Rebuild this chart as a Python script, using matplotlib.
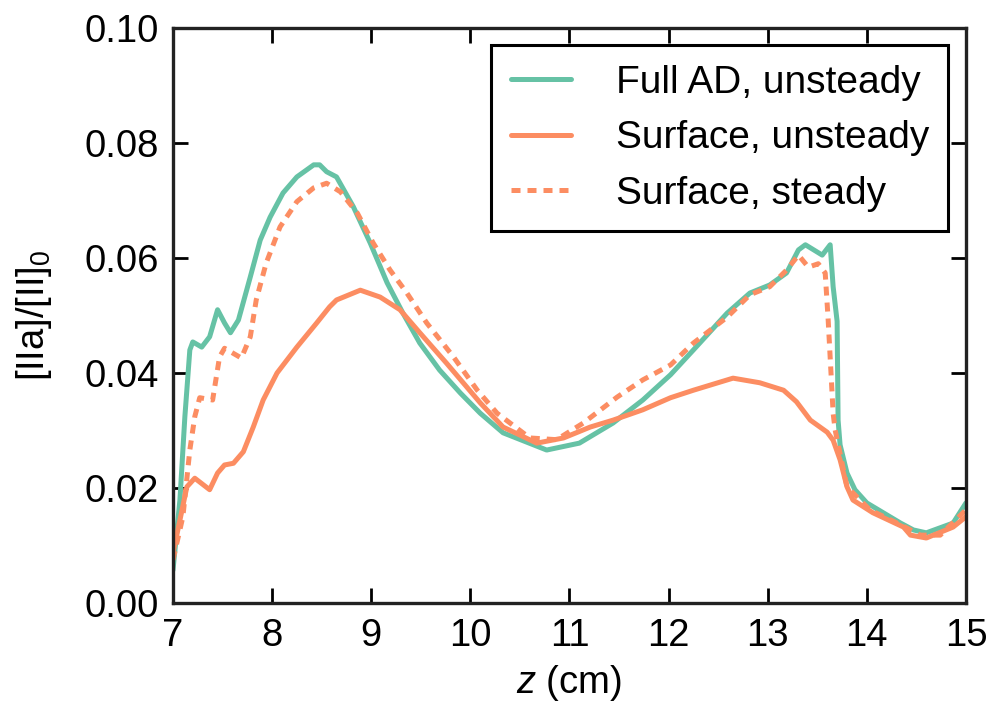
import numpy as np
import matplotlib
matplotlib.use('Agg')
import matplotlib.pyplot as plt

# valores
z_full = [7.0, 7.07, 7.12, 7.17, 7.2, 7.29, 7.37, 7.45, 7.52, 7.58, 7.66, 7.78, 7.88, 7.98,
          8.11, 8.25, 8.42, 8.48, 8.55, 8.65, 8.82, 8.99, 9.16, 9.32, 9.49, 9.69, 9.9, 10.1,
          10.33, 10.77, 11.1, 11.44, 11.74, 12.02, 12.25, 12.59, 12.82, 13.02, 13.19, 13.31,
          13.38, 13.55, 13.63, 13.66, 13.70, 13.71, 13.73, 13.8, 13.88, 14.0, 14.34, 14.47,
          14.6, 14.87, 15.0]
v_full = [0.0057, 0.0179, 0.0324, 0.044, 0.0454, 0.0445, 0.0463, 0.051, 0.0487, 0.047, 0.0492,
          0.0567, 0.0631, 0.0671, 0.0713, 0.0741, 0.0762, 0.0762, 0.075, 0.0741, 0.0689,
          0.0626, 0.0557, 0.0504, 0.0452, 0.0405, 0.0365, 0.033, 0.0296, 0.0266, 0.0278,
          0.0313, 0.0353, 0.0397, 0.044, 0.0504, 0.0539, 0.0553, 0.0574, 0.0614, 0.0623,
          0.0605, 0.0623, 0.055, 0.049, 0.0318, 0.0275, 0.0226, 0.0197, 0.0174, 0.0139,
          0.0127, 0.0122, 0.0139, 0.0174]

z_surf = [7.0, 7.07, 7.14, 7.22, 7.31, 7.37, 7.45, 7.52, 7.61, 7.71, 7.81, 7.91, 8.05, 8.25,
          8.45, 8.58, 8.65, 8.89, 9.09, 9.29, 9.49, 9.76, 10.1, 10.33, 10.67, 10.94, 11.21,
          11.44, 11.74, 12.02, 12.25, 12.65, 12.92, 13.16, 13.29, 13.43, 13.6, 13.66, 13.73,
          13.8, 13.86, 14.06, 14.37, 14.44, 14.6, 14.87, 15.0]
v_surf = [0.0087, 0.0144, 0.0202, 0.0217, 0.0205, 0.0197, 0.0226, 0.024, 0.0243, 0.0263,
          0.0306, 0.0353, 0.04, 0.0445, 0.0487, 0.0515, 0.0527, 0.0544, 0.0532, 0.051, 0.047,
          0.0417, 0.0348, 0.0306, 0.0278, 0.0287, 0.0306, 0.0318, 0.0336, 0.0357, 0.037,
          0.0391, 0.0383, 0.037, 0.035, 0.0318, 0.0297, 0.0283, 0.0249, 0.0202, 0.0179,
          0.0157, 0.0132, 0.0118, 0.0113, 0.0132, 0.015]

z_steady = [7.0, 7.1, 7.17, 7.22, 7.27, 7.4, 7.47, 7.52, 7.69, 7.78, 7.84, 7.94, 8.08, 8.25,
            8.42, 8.55, 8.69, 8.86, 9.02, 9.19, 9.36, 9.56, 9.83, 10.07, 10.27, 10.6, 10.87,
            11.14, 11.48, 11.74, 12.02, 12.25, 12.59, 12.82, 13.02, 13.19, 13.31, 13.41,
            13.51, 13.58, 13.61, 13.66, 13.68, 13.8, 14.03, 14.34, 14.54, 14.74, 15.0]
v_steady = [0.0075, 0.015, 0.0266, 0.0324, 0.0357, 0.0353, 0.0428, 0.0443, 0.0426, 0.0463,
            0.0527, 0.0591, 0.0654, 0.0698, 0.0722, 0.073, 0.0715, 0.0678, 0.0626, 0.0579,
            0.0539, 0.0487, 0.0428, 0.037, 0.033, 0.0287, 0.0284, 0.0313, 0.0358, 0.0388,
            0.0414, 0.0452, 0.0497, 0.0536, 0.055, 0.0579, 0.0605, 0.0584, 0.059, 0.0574,
            0.0492, 0.033, 0.0301, 0.0202, 0.0162, 0.0136, 0.0118, 0.0118, 0.0162]

verde = '#66c2a5'
laranja = '#fc8d62'

plt.rcParams['font.family'] = ['Liberation Sans', 'DejaVu Sans']
plt.rcParams['mathtext.fontset'] = 'custom'
plt.rcParams['mathtext.rm'] = 'Liberation Sans'
plt.rcParams['mathtext.it'] = 'Liberation Sans:italic'

fig = plt.figure(figsize=(10.01, 7.25), dpi=100)
ax = fig.add_axes([0.1728, 0.1683, 0.7922, 0.7931])

estilo = dict(lw=3.6, solid_joinstyle='round', solid_capstyle='round')
ax.plot(z_full, v_full, color=verde, label='Full AD, unsteady', **estilo)
ax.plot(z_surf, v_surf, color=laranja, label='Surface, unsteady', **estilo)
ax.plot(z_steady, v_steady, color=laranja, lw=3.6, ls=(0, (1.8, 1.4)), label='Surface, steady')

ax.set_xlim(7, 15)
ax.set_ylim(0, 0.10)
ax.set_xticks(range(7, 16))
ax.set_yticks([0.0, 0.02, 0.04, 0.06, 0.08, 0.10])
ax.set_yticklabels(['0.00', '0.02', '0.04', '0.06', '0.08', '0.10'])
ax.tick_params(direction='in', length=11, width=2, labelsize=27.5, top=True, right=True)
ax.tick_params(axis='x', pad=11)
ax.tick_params(axis='y', pad=10)
for s in ax.spines.values():
    s.set_linewidth(2.4)
    s.set_color('#222222')

ax.set_xlabel('$z$ (cm)', fontsize=27.5, labelpad=6)
ax.set_ylabel('[IIa]/[II]$_0$', fontsize=27.5, labelpad=22)

leg = ax.legend(loc='upper right', fontsize=28, handlelength=1.55, handletextpad=1.15,
                labelspacing=0.5, borderpad=0.5, fancybox=False, borderaxespad=0.45)
leg.get_frame().set_edgecolor('black')
leg.get_frame().set_linewidth(2.2)
leg.get_frame().set_alpha(1)

fig.savefig('out.png', dpi=100)
